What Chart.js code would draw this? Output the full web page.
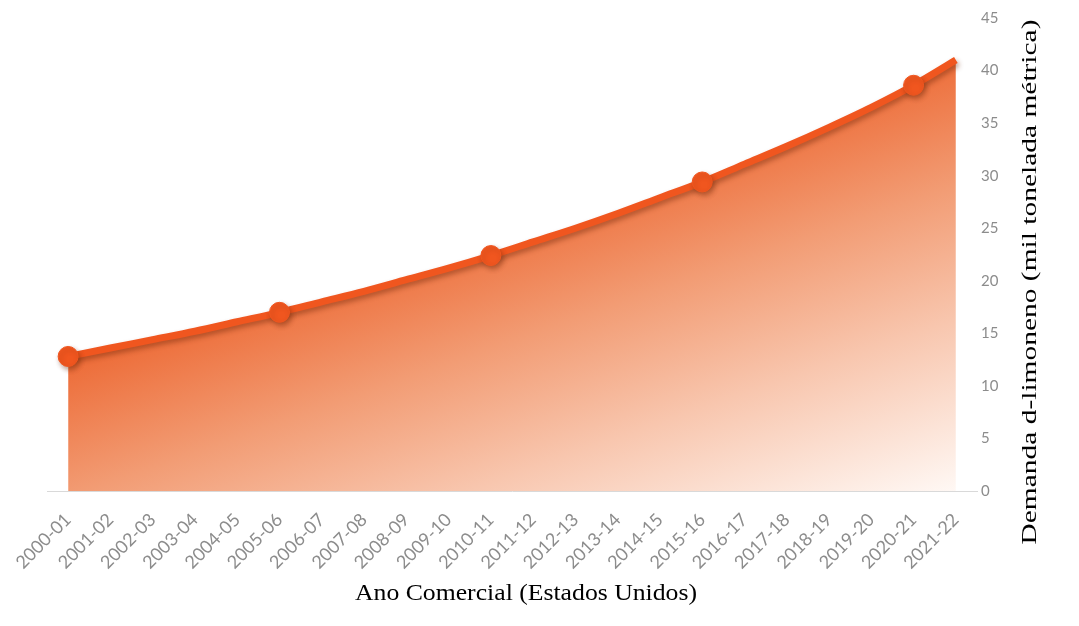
<!DOCTYPE html>
<html>
<head>
<meta charset="utf-8">
<title>Demanda d-limoneno</title>
<script src="https://cdn.jsdelivr.net/npm/chart.js@4.4.1/dist/chart.umd.min.js"></script>
<style>
	html, body { margin: 0; padding: 0; background: #ffffff; }
	#chartBox { position: relative; width: 1079px; height: 626px; }
</style>
</head>
<body>
<div id="chartBox"><canvas id="demandChart"></canvas></div>
<script>
//Commercial years (US)
var years = [
	'2000-01', '2001-02', '2002-03', '2003-04', '2004-05', '2005-06',
	'2006-07', '2007-08', '2008-09', '2009-10', '2010-11', '2011-12',
	'2012-13', '2013-14', '2014-15', '2015-16', '2016-17', '2017-18',
	'2018-19', '2019-20', '2020-21', '2021-22'
];

//d-limonene demand, thousand metric tonnes
var demand = [
	12.8, 13.6, 14.4, 15.2, 16.1, 17.0,
	18.0, 19.0, 20.1, 21.2, 22.4, 23.7,
	25.0, 26.4, 27.9, 29.4, 31.1, 32.8,
	34.6, 36.5, 38.6, 41.0
];

//Years that get a round marker on the line
var markedYears = ['2000-01', '2005-06', '2010-11', '2015-16', '2020-21'];

//Value axis range
var yMin = 0;
var yMax = 45;
var yStep = 5;

var xTitle = 'Ano Comercial (Estados Unidos)';
var yTitle = 'Demanda d-limoneno (mil tonelada métrica)';

$ready(function()
{
	var lineColor = '#f0561f';

	//Area fill: strong orange under the line fading out to the bottom right
	function areaFill(context)
	{
		var area = context.chart.chartArea;
		if (!area)
		{
			return null;
		}
		var w = area.right - area.left;
		var h = area.bottom - area.top;
		var g = context.chart.ctx.createLinearGradient(
			area.left + 0.08 * w, area.top + 0.69 * h,
			area.left + 0.23 * w, area.top + 1.53 * h);
		g.addColorStop(0, '#ed6c38');
		g.addColorStop(0.3, '#f29c74');
		g.addColorStop(0.6, '#f8c6ae');
		g.addColorStop(1, '#fffaf7');
		return g;
	}

	//Soft drop shadow under the line and markers (fill is already drawn by then)
	var lineShadow = {
		id: 'lineShadow',
		beforeDatasetDraw: function(chart)
		{
			var ctx = chart.ctx;
			ctx.save();
			ctx.shadowColor = 'rgba(110, 40, 10, 0.45)';
			ctx.shadowBlur = 5;
			ctx.shadowOffsetX = 2;
			ctx.shadowOffsetY = 3;
		},
		afterDatasetDraw: function(chart)
		{
			chart.ctx.restore();
		}
	};

	//Draw text centred on (cx, cy), stretched along its run to the given length
	function drawFittedText(ctx, text, cx, cy, angle, font, length)
	{
		ctx.save();
		ctx.font = font;
		ctx.fillStyle = '#000000';
		ctx.textAlign = 'center';
		ctx.textBaseline = 'middle';
		var sx = length / ctx.measureText(text).width;
		ctx.translate(cx, cy);
		ctx.rotate(angle);
		ctx.scale(sx, 1);
		ctx.fillText(text, 0, 0);
		ctx.restore();
	}

	//Axis titles in serif type
	var axisTitles = {
		id: 'axisTitles',
		afterDraw: function(chart)
		{
			var ctx = chart.ctx;
			drawFittedText(ctx, xTitle, 526, 594, 0, '23px "Liberation Serif"', 342);
			drawFittedText(ctx, yTitle, 1030, 282, -Math.PI / 2, '22px "Liberation Serif"', 525);
		}
	};

	var ctx = document.getElementById('demandChart').getContext('2d');

	var demandChart = new Chart(ctx, {
		type: 'line',
		data: {
			labels: years,
			datasets: [{
				data: demand,
				borderColor: lineColor,
				borderWidth: 7,
				backgroundColor: areaFill,
				fill: 'origin',
				cubicInterpolationMode: 'monotone',
				pointRadius: function(c)
				{
					return markedYears.indexOf(years[c.dataIndex]) >= 0 ? 10 : 0;
				},
				pointBackgroundColor: lineColor,
				pointBorderColor: lineColor,
				pointBorderWidth: 1,
				clip: false
			}]
		},
		plugins: [lineShadow, axisTitles],
		options: {
			responsive: true,
			maintainAspectRatio: false,
			animation: false,
			layout: {
				padding: { left: 47, right: 62, top: 18, bottom: 0 }
			},
			plugins: {
				legend: { display: false },
				tooltip: { enabled: false }
			},
			scales: {
				x: {
					offset: true,
					grid: { display: false, drawTicks: false },
					border: { display: true, color: '#d9d9d9', width: 1 },
					ticks: {
						autoSkip: false,
						minRotation: 45,
						maxRotation: 45,
						padding: 18,
						color: '#8c8c8c',
						font: { family: 'Lato', size: 18 }
					},
					afterFit: function(scale)
					{
						scale.height = 135;
					}
				},
				y: {
					position: 'right',
					min: yMin,
					max: yMax,
					grid: { display: false, drawTicks: false },
					border: { display: false },
					ticks: {
						stepSize: yStep,
						padding: 4,
						color: '#8c8c8c',
						font: { family: 'Lato', size: 15 }
					},
					afterFit: function(scale)
					{
						scale.width = 40;
					}
				}
			}
		}
	});
});

//Run once the page is parsed
function $ready(fn)
{
	if (document.readyState !== 'loading')
	{
		fn();
	}
	else
	{
		document.addEventListener('DOMContentLoaded', fn);
	}
}
</script>
</body>
</html>
